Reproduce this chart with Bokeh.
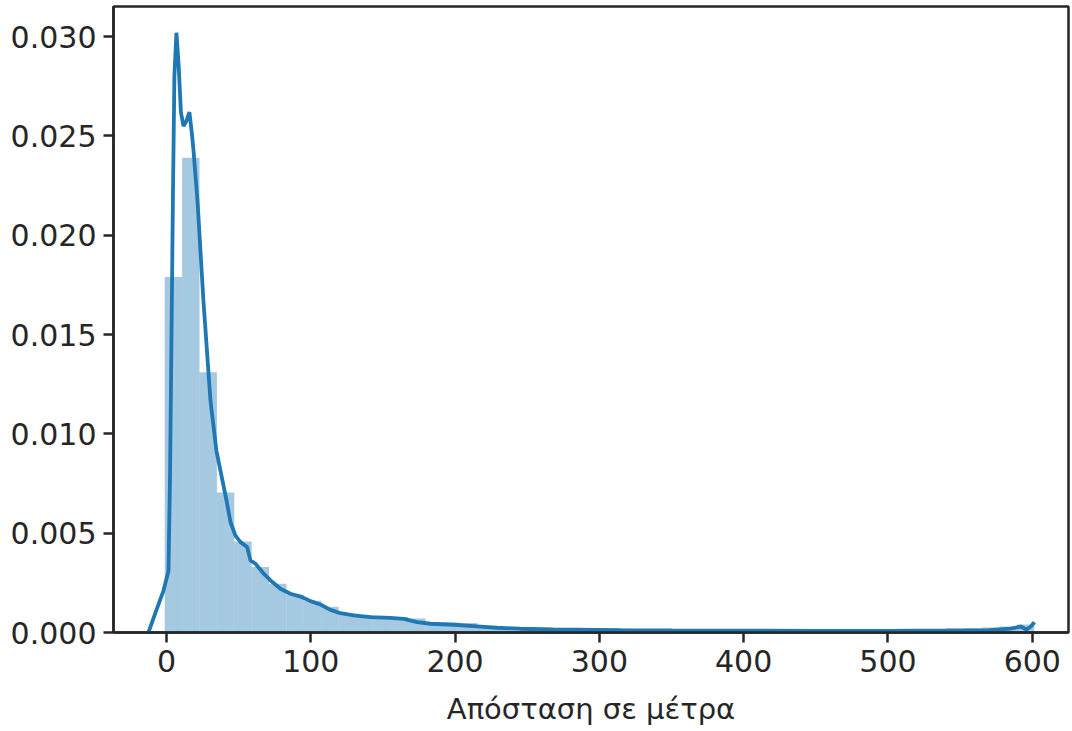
import numpy as np
from bokeh.plotting import figure
from bokeh.models import Range1d, FixedTicker, NumeralTickFormatter
from bokeh.embed import file_html
from bokeh.resources import INLINE

# ---- data ----
hist_bin_start = -1.2
hist_bin_width = 12.05
hist_density = [
    0.0179, 0.0239, 0.0131, 0.00705, 0.00458, 0.0033, 0.00246, 0.0019, 0.0016, 0.0013,
    0.00095, 0.00085, 0.0008, 0.00078, 0.0007, 0.00048, 0.0005, 0.00048, 0.0003, 0.00022,
    0.0002, 0.00017, 0.00015, 0.00013, 0.00012, 0.00018, 0.00019, 0.00015, 0.0001, 0.00009,
    0.0001, 0.00008, 0.00009, 0.00007, 0.00008, 0.00007, 0.00006, 0.00007, 0.00006, 0.00006,
    0.00007, 0.00005, 0.00006, 0.00008, 0.0001, 0.00018, 0.00022, 0.00025, 0.0003, 0.0004,
]

kde_x = [-12.5, -7.6, -2.1, 1.4, 2.5, 3.5, 4.5, 5.5, 6.9, 8.5, 10.0, 11.8, 13.5, 15.9,
         17.5, 18.7, 21.5, 25.6, 30.5, 34.6, 41.6, 44.4, 47.8, 51.3, 55.9, 58.2, 61.7,
         67.4, 72.1, 79.0, 85.9, 92.9, 99.8, 106.7, 113.6, 120.6, 129.8, 141.4, 155.2,
         164.5, 173.7, 183.0, 199.0, 217.6, 229.0, 245.0, 268.0, 314.6, 350.0, 400.0,
         450.0, 500.0, 540.0, 570.0, 585.0, 592.0, 596.0, 599.0, 601.5]
kde_y = [0.0, 0.001, 0.0021, 0.0031, 0.008, 0.015, 0.022, 0.028, 0.0302, 0.0285,
         0.0262, 0.0255, 0.0257, 0.0262, 0.0252, 0.0243, 0.02175, 0.01672, 0.01168,
         0.00916, 0.00665, 0.00555, 0.00488, 0.00455, 0.0043, 0.00363, 0.00346,
         0.00296, 0.00262, 0.0022, 0.00195, 0.00181, 0.00158, 0.00141, 0.00114,
         0.00097, 0.00086, 0.00077, 0.00074, 0.00069, 0.00052, 0.00044, 0.00039,
         0.0003, 0.00024, 0.00019, 0.00015, 0.00012, 0.0001, 0.00009, 0.00008,
         0.00008, 0.0001, 0.00012, 0.0002, 0.0003, 0.00015, 0.0003, 0.00052]

x_ticks = [0, 100, 200, 300, 400, 500, 600]
y_ticks = [0.0, 0.005, 0.010, 0.015, 0.020, 0.025, 0.030]
x_label = "Απόσταση σε μέτρα"

# ---- figure ----
p = figure(width=1072, height=731, output_backend="svg", toolbar_location=None,
           x_range=Range1d(-36.7, 625.1), y_range=Range1d(0, 0.03152),
           min_border_left=113, min_border_right=4, min_border_top=6,
           min_border_bottom=99)
p.background_fill_color = "white"
p.border_fill_color = "white"
p.grid.visible = False
p.outline_line_color = "#262626"
p.outline_line_width = 2.5

left_edges = [hist_bin_start + i * hist_bin_width for i in range(len(hist_density))]
right_edges = [e + hist_bin_width for e in left_edges]
p.quad(left=left_edges, right=right_edges, bottom=0, top=hist_density,
       fill_color="#1f77b4", fill_alpha=0.4, line_color=None)

p.line(kde_x, kde_y, line_color="#1f77b4", line_width=3.8)

for ax in (p.xaxis[0], p.yaxis[0]):
    ax.axis_line_color = "#262626"
    ax.axis_line_width = 2.5
    ax.major_tick_line_color = "#262626"
    ax.major_tick_line_width = 2.5
    ax.major_tick_out = 10
    ax.major_tick_in = 0
    ax.minor_tick_line_color = None
    ax.major_label_text_font = "DejaVu Sans"
    ax.major_label_text_font_size = "30px"
    ax.major_label_text_color = "#262626"
    ax.major_label_standoff = 7

p.xaxis.ticker = FixedTicker(ticks=x_ticks)
p.yaxis.ticker = FixedTicker(ticks=y_ticks)
p.yaxis.formatter = NumeralTickFormatter(format="0.000")
p.xaxis.axis_label = x_label
p.xaxis.axis_label_text_font = "DejaVu Sans"
p.xaxis.axis_label_text_font_size = "29px"
p.xaxis.axis_label_text_font_style = "normal"
p.xaxis.axis_label_text_color = "#262626"
p.xaxis.axis_label_text_line_height = 1.0
p.xaxis.axis_label_standoff = 17

open("out.html", "w").write(file_html(p, INLINE))
